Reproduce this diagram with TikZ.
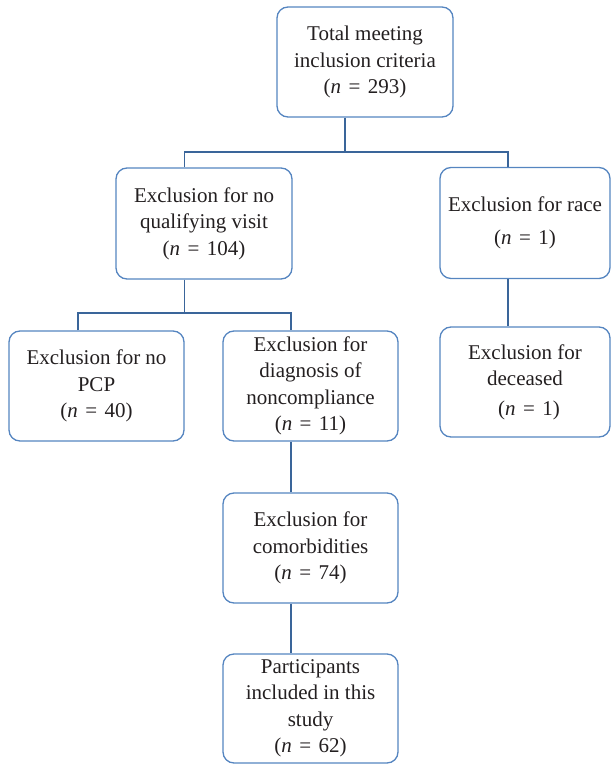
\documentclass[tikz,border=0pt]{standalone}
\usepackage{fontspec}
\setmainfont{Liberation Serif}
\definecolor{boxblue}{HTML}{5585C0}
\definecolor{linkblue}{HTML}{3A659A}
\definecolor{txt}{HTML}{231F20}
\newcommand{\eqn}[1]{(\textit{n}\hspace{0.35em}=\hspace{0.35em}#1)}
\begin{document}
\begin{tikzpicture}[x=1pt,y=-1pt,
  box/.style={draw=boxblue, line width=1.3pt, rounded corners=11pt, align=center,
    text=txt, font=\fontsize{21}{26.5}\selectfont, inner sep=0pt},
  conn/.style={draw=linkblue, line width=1.4pt}]
\useasboundingbox (0,0) rectangle (611,765);
\node[box, minimum width=176, minimum height=110] (top) at (365,62)
  {Total meeting\\inclusion criteria\\\eqn{293}};
\node[box, minimum width=176, minimum height=111] (qual) at (204,223.5)
  {Exclusion for no\\qualifying visit\\\eqn{104}};
\node[box, minimum width=170, minimum height=111] (race) at (525,223)
  {Exclusion for race\\[6pt]\eqn{1}};
\node[box, minimum width=175, minimum height=110] (pcp) at (96.5,386)
  {Exclusion for no\\PCP\\\eqn{40}};
\node[box, minimum width=175, minimum height=110] (nonc) at (310.5,386)
  {Exclusion for\\diagnosis of\\noncompliance\\\eqn{11}};
\node[box, minimum width=170, minimum height=110] (dec) at (525,382)
  {Exclusion for\\deceased\\[3pt]\hspace*{8pt}\eqn{1}};
\node[box, minimum width=175, minimum height=110] (com) at (310.5,548)
  {Exclusion for\\comorbidities\\\eqn{74}};
\node[box, minimum width=175, minimum height=109] (part) at (310.5,708.5)
  {Participants\\included in this\\study\\\eqn{62}};
\coordinate (b1) at (345,152);
\coordinate (b1l) at (184.5,152);
\coordinate (b1r) at (508,152);
\coordinate (b2) at (184.5,313);
\coordinate (b2l) at (78,313);
\coordinate (b2r) at (291,313);
\draw[conn] (b1 |- top.south) -- (b1);
\draw[conn] (b1l |- qual.north) -- (b1l) -- (b1r) -- (b1r |- race.north);
\draw[conn] (b2 |- qual.south) -- (b2);
\draw[conn] (b2l |- pcp.north) -- (b2l) -- (b2r) -- (b2r |- nonc.north);
\draw[conn] (b1r |- race.south) -- (b1r |- dec.north);
\draw[conn] (b2r |- nonc.south) -- (b2r |- com.north);
\draw[conn] (b2r |- com.south) -- (b2r |- part.north);
\end{tikzpicture}
\end{document}
